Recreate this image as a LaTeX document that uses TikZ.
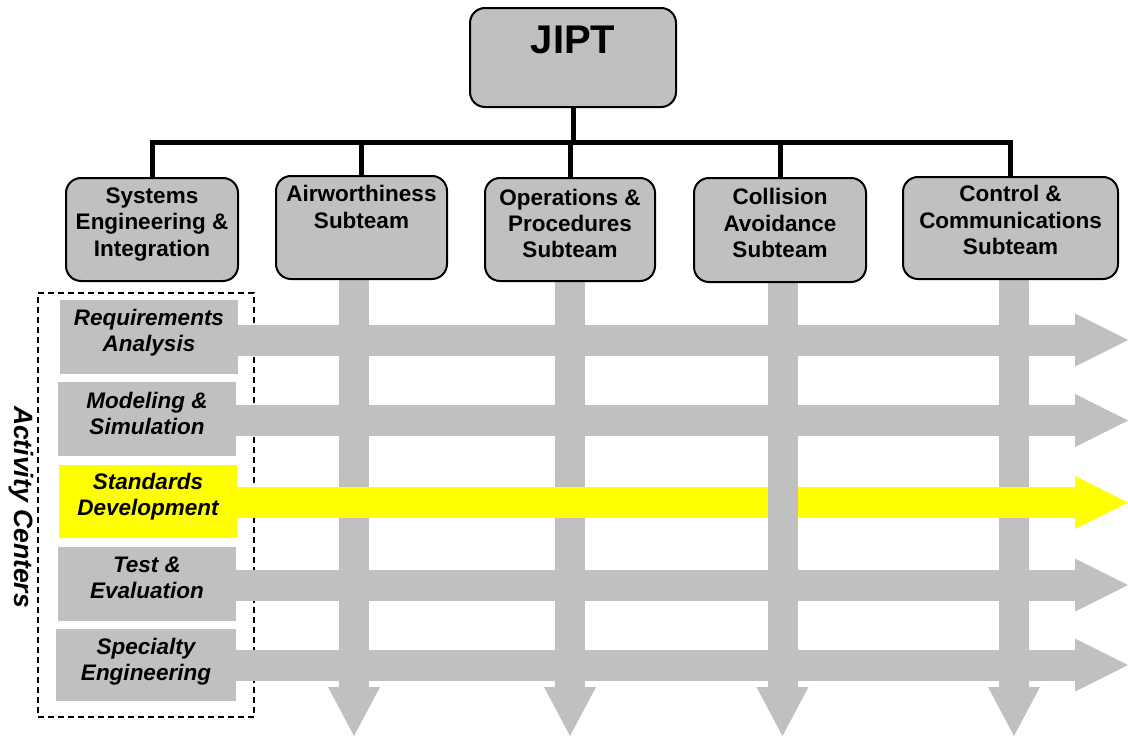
\documentclass[tikz,border=0pt]{standalone}
\usepackage{fontspec}
\setmainfont{Liberation Sans}
\usetikzlibrary{arrows.meta}
\definecolor{boxgray}{HTML}{C0C0C0}
\definecolor{hiyellow}{HTML}{FFFF00}
\pgfdeclarelayer{l0}
\pgfdeclarelayer{l1}
\pgfdeclarelayer{l2}
\pgfdeclarelayer{l3}
\pgfsetlayers{l0,l1,l2,l3,main}
\begin{document}
\begin{tikzpicture}[x=1pt,y=-1pt,
  teambox/.style={draw=black, line width=2pt, fill=boxgray, rounded corners=15pt, inner sep=0pt},
  teamtext/.style={align=center, font=\fontsize{22.5}{26.3}\selectfont\bfseries, inner sep=0pt},
  actbox/.style={fill=boxgray, inner sep=0pt, minimum width=178pt, minimum height=74pt},
  acttext/.style={align=center, font=\fontsize{22.5}{26}\selectfont\bfseries\itshape, inner sep=0pt},
  orgline/.style={line width=5pt},
  vflow/.style={line width=30pt, draw=boxgray, -{Triangle[width=52pt,length=49pt,line width=0pt]}},
  hflow/.style={line width=31pt, draw=boxgray, -{Triangle[width=53pt,length=53pt,line width=0pt]}},
  yflow/.style={line width=31pt, draw=hiyellow, -{Triangle[width=53pt,length=53pt,line width=0pt]}},
  groupbox/.style={draw=black, line width=1.5pt, dash pattern=on 6pt off 4pt, inner sep=0pt}
]
\useasboundingbox (0,0) rectangle (1128,736);

% top box
\node[teambox, minimum width=206pt, minimum height=99pt] (jipt) at (573,57.5) {};
\node[font=\fontsize{40}{48}\selectfont\bfseries, inner sep=0pt] (jiptt) at (573,40) {JIPT};

% subteam boxes
\node[teambox, minimum width=172pt, minimum height=103pt] (sei) at (152,229.5) {};
\node[teambox, minimum width=171pt, minimum height=103pt] (aw) at (361.5,227.5) {};
\node[teambox, minimum width=170pt, minimum height=103pt] (op) at (570,229.5) {};
\node[teambox, minimum width=172pt, minimum height=104pt] (ca) at (780,230) {};
\node[teambox, minimum width=215pt, minimum height=102pt] (cc) at (1010.5,228) {};

\node[teamtext] (seit) at ([yshift=5pt]sei.center) {Systems\\Engineering \&\\Integration};
\node[teamtext] (awt) at ([yshift=20.5pt]aw.center) {Airworthiness\\Subteam};
\node[teamtext] (opt) at ([yshift=6pt]op.center) {Operations \&\\Procedures\\Subteam};
\node[teamtext] (cat) at ([yshift=7pt]ca.center) {Collision\\Avoidance\\Subteam};
\node[teamtext] (cct) at ([yshift=8pt]cc.center) {Control \&\\Communications\\Subteam};

% org connectors
\coordinate (busL) at (152,142);
\draw[orgline] (jipt.south) -- (jipt.south |- busL);
\draw[orgline] (sei.north) -- (sei.north |- busL) -- (cc.north |- busL) -- (cc.north);
\draw[orgline] (aw.north) -- (aw.north |- busL);
\draw[orgline] (op.north) -- (op.north |- busL);
\draw[orgline] (ca.north) -- (ca.north |- busL);

% activity centers
\node[actbox] (req) at (149,337) {};
\node[actbox] (mod) at (147,419) {};
\node[actbox, fill=hiyellow, minimum height=73pt] (std) at (148,501.5) {};
\node[actbox] (te) at (147,584) {};
\node[actbox, minimum width=180pt, minimum height=72pt] (spe) at (146,665) {};

\node[acttext] (reqt) at ([yshift=4pt]req.center) {Requirements\\Analysis};
\node[acttext] (modt) at ([yshift=6pt]mod.center) {Modeling \&\\Simulation};
\node[acttext] (stdt) at ([yshift=4.5pt]std.center) {Standards\\Development};
\node[acttext] (tet) at ([yshift=6pt]te.center) {Test \&\\Evaluation};
\node[acttext] (spet) at ([yshift=3pt]spe.center) {Specialty\\Engineering};

\node[font=\fontsize{26.5}{30}\selectfont\bfseries\itshape, inner sep=0pt, rotate=-90] (aclabel) at (21,507) {Activity Centers};

% flow arrow end points
\coordinate (v1) at (354,736);
\coordinate (v2) at (570,736);
\coordinate (v3) at (782.5,736);
\coordinate (v4) at (1014,736);
\coordinate (h1) at (1128,340);
\coordinate (h2) at (1128,420.5);
\coordinate (h3) at (1128,502.5);
\coordinate (h4) at (1128,585);
\coordinate (h5) at (1128,665);

\begin{pgfonlayer}{l0}
\node[groupbox, minimum width=216pt, minimum height=424pt] (acgroup) at (146,505) {};
\end{pgfonlayer}

\begin{pgfonlayer}{l1}
\draw[vflow] (aw.center -| v1) -- (v1);
\draw[vflow] (op.center -| v2) -- (v2);
\draw[vflow] (cc.center -| v4) -- (v4);
\draw[hflow] (req.center |- h1) -- (h1);
\draw[hflow] (mod.center |- h2) -- (h2);
\draw[hflow] (te.center |- h4) -- (h4);
\draw[hflow] (spe.center |- h5) -- (h5);
\end{pgfonlayer}

\begin{pgfonlayer}{l2}
\draw[yflow] (std.center |- h3) -- (h3);
\end{pgfonlayer}

\begin{pgfonlayer}{l3}
\draw[vflow] (ca.center -| v3) -- (v3);
\end{pgfonlayer}
\end{tikzpicture}
\end{document}
